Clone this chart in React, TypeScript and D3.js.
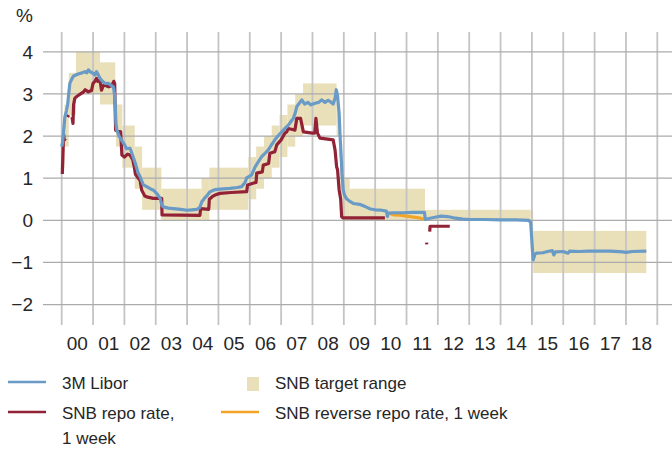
import React from "react";
import * as d3 from "d3";

// ---------- data ----------
const yearTicks = ["00","01","02","03","04","05","06","07","08","09","10","11","12","13","14","15","16","17","18"];
const yTicks = [-2, -1, 0, 1, 2, 3, 4];

// [start, end, low, high]
const targetRanges: [number, number, number, number][] = [
  [2000.0, 2000.09, 1.25, 2.25],
  [2000.09, 2000.225, 1.75, 2.75],
  [2000.225, 2000.455, 2.5, 3.5],
  [2000.455, 2001.22, 3.0, 4.0],
  [2001.22, 2001.71, 2.75, 3.75],
  [2001.71, 2001.73, 2.25, 3.25],
  [2001.73, 2001.935, 1.75, 2.75],
  [2001.935, 2002.33, 1.25, 2.25],
  [2002.33, 2002.565, 0.75, 1.75],
  [2002.565, 2003.18, 0.25, 1.25],
  [2003.18, 2004.46, 0.0, 0.75],
  [2004.46, 2004.71, 0.0, 1.0],
  [2004.71, 2005.955, 0.25, 1.25],
  [2005.955, 2006.205, 0.5, 1.5],
  [2006.205, 2006.455, 0.75, 1.75],
  [2006.455, 2006.7, 1.0, 2.0],
  [2006.7, 2006.95, 1.25, 2.25],
  [2006.95, 2007.2, 1.5, 2.5],
  [2007.2, 2007.45, 1.75, 2.75],
  [2007.45, 2007.7, 2.0, 3.0],
  [2007.7, 2008.77, 2.25, 3.25],
  [2008.77, 2008.85, 2.0, 3.0],
  [2008.85, 2008.89, 1.5, 2.5],
  [2008.89, 2008.95, 0.5, 1.5],
  [2008.95, 2009.19, 0.0, 1.0],
  [2009.19, 2011.59, 0.0, 0.75],
  [2011.59, 2014.96, 0.0, 0.25],
  [2014.96, 2015.04, -0.75, 0.25],
  [2015.04, 2018.65, -1.25, -0.25],
];

const libor: [number, number][] = [
  [2000.0, 1.75], [2000.03, 1.85], [2000.06, 2.1], [2000.1, 2.45], [2000.15, 2.6], [2000.19, 2.75],
  [2000.23, 3.05], [2000.26, 3.25], [2000.32, 3.35], [2000.37, 3.42], [2000.45, 3.45], [2000.55, 3.48],
  [2000.65, 3.5], [2000.74, 3.53], [2000.8, 3.5], [2000.85, 3.57], [2000.92, 3.52], [2001.0, 3.49],
  [2001.06, 3.45], [2001.11, 3.53], [2001.17, 3.45], [2001.22, 3.37], [2001.3, 3.3], [2001.38, 3.25],
  [2001.5, 3.25], [2001.58, 3.2], [2001.65, 3.17], [2001.7, 2.9], [2001.73, 2.3], [2001.76, 2.14],
  [2001.83, 2.0], [2001.91, 1.9], [2002.0, 1.8], [2002.07, 1.7], [2002.18, 1.71], [2002.28, 1.5],
  [2002.35, 1.35], [2002.44, 1.12], [2002.5, 1.04], [2002.6, 0.85], [2002.71, 0.8], [2002.85, 0.74],
  [2002.92, 0.72], [2003.05, 0.62], [2003.14, 0.52], [2003.2, 0.35], [2003.24, 0.32], [2003.4, 0.29],
  [2003.56, 0.28], [2003.8, 0.26], [2003.99, 0.24], [2004.15, 0.25], [2004.31, 0.26], [2004.4, 0.3],
  [2004.47, 0.44], [2004.55, 0.52], [2004.65, 0.6], [2004.73, 0.68], [2004.9, 0.73], [2005.05, 0.74],
  [2005.37, 0.76], [2005.6, 0.78], [2005.74, 0.8], [2005.85, 0.9], [2005.9, 1.01], [2006.06, 1.08],
  [2006.17, 1.27], [2006.28, 1.4], [2006.38, 1.51], [2006.5, 1.6], [2006.59, 1.67], [2006.7, 1.8],
  [2006.8, 1.91], [2006.92, 2.02], [2007.02, 2.1], [2007.12, 2.18], [2007.23, 2.26], [2007.32, 2.35],
  [2007.39, 2.42], [2007.45, 2.55], [2007.5, 2.7], [2007.58, 2.78], [2007.66, 2.86], [2007.75, 2.76],
  [2007.85, 2.8], [2007.95, 2.74], [2008.08, 2.78], [2008.2, 2.8], [2008.29, 2.86], [2008.4, 2.8],
  [2008.5, 2.85], [2008.56, 2.82], [2008.66, 2.76], [2008.72, 2.9], [2008.76, 3.1], [2008.8, 2.95],
  [2008.85, 2.54], [2008.88, 2.0], [2008.91, 1.59], [2008.94, 1.12], [2008.98, 0.72], [2009.02, 0.6],
  [2009.08, 0.52], [2009.19, 0.45], [2009.3, 0.4], [2009.5, 0.38], [2009.7, 0.32], [2009.85, 0.27],
  [2010.0, 0.25], [2010.2, 0.24], [2010.36, 0.22], [2010.39, 0.09], [2010.42, 0.17], [2010.6, 0.18],
  [2010.9, 0.18], [2011.2, 0.19], [2011.5, 0.19], [2011.57, 0.19], [2011.6, 0.02], [2011.75, 0.05],
  [2011.95, 0.08], [2012.1, 0.1], [2012.3, 0.09], [2012.5, 0.06], [2012.8, 0.03], [2013.0, 0.02],
  [2013.5, 0.02], [2014.0, 0.01], [2014.5, 0.01], [2014.9, 0.0], [2014.96, -0.05], [2015.0, -0.5],
  [2015.04, -0.94], [2015.1, -0.8], [2015.15, -0.78], [2015.35, -0.77], [2015.5, -0.74], [2015.65, -0.72],
  [2015.7, -0.82], [2015.75, -0.75], [2016.0, -0.74], [2016.15, -0.78], [2016.2, -0.73], [2016.5, -0.74],
  [2016.8, -0.73], [2017.0, -0.73], [2017.5, -0.73], [2017.9, -0.75], [2018.0, -0.76], [2018.2, -0.74],
  [2018.65, -0.73],
];

// null value = gap in the line
const repo: [number, number | null][] = [
  [2000.02, 1.1], [2000.06, 2.05], [2000.08, 1.9], [2000.12, 1.95], [2000.15, null],
  [2000.19, 2.45], [2000.22, 2.5], [2000.28, null], [2000.33, 2.45], [2000.36, 2.3],
  [2000.38, 2.75], [2000.42, 2.9], [2000.5, 2.95], [2000.6, 3.0], [2000.7, 3.05], [2000.75, 3.1],
  [2000.85, 3.05], [2000.95, 3.08], [2001.0, 3.25], [2001.06, 3.3], [2001.11, 3.37], [2001.15, 3.3],
  [2001.22, 3.33], [2001.27, 3.09], [2001.33, 3.2], [2001.4, 3.2], [2001.5, 3.17], [2001.6, 3.2],
  [2001.66, 3.3], [2001.69, 3.25], [2001.72, 2.14], [2001.88, 2.1], [2001.92, 1.55], [2002.0, 1.5],
  [2002.1, 1.57], [2002.18, 1.55], [2002.27, 1.43], [2002.32, 1.25], [2002.35, 1.1], [2002.44, 1.0],
  [2002.5, 0.95], [2002.55, 0.72], [2002.65, 0.58], [2002.75, 0.55], [2002.92, 0.52], [2003.19, 0.52],
  [2003.2, 0.13], [2004.41, 0.12], [2004.43, 0.28], [2004.69, 0.26], [2004.71, 0.5], [2004.8, 0.56],
  [2004.89, 0.6], [2005.05, 0.64], [2005.4, 0.66], [2005.9, 0.68], [2005.93, 0.84], [2006.1, 0.88],
  [2006.2, 0.9], [2006.22, 1.12], [2006.4, 1.15], [2006.43, 1.31], [2006.6, 1.35], [2006.64, 1.59],
  [2006.8, 1.63], [2006.86, 1.79], [2007.0, 1.91], [2007.12, 2.07], [2007.18, 2.1], [2007.22, 2.18],
  [2007.4, 2.15], [2007.44, 2.14], [2007.5, 2.42], [2007.62, 2.42], [2007.71, 2.1], [2008.0, 2.07],
  [2008.07, 2.07], [2008.11, 2.42], [2008.16, 2.07], [2008.24, 1.95], [2008.66, 1.91], [2008.72, 1.67],
  [2008.77, 1.27], [2008.8, 1.2], [2008.85, 0.72], [2008.9, 0.5], [2008.93, 0.09], [2008.97, 0.06],
  [2010.31, 0.06], [2011.0, null], [2011.64, -0.53], [2011.645, -0.57], [2011.7, null],
  [2011.74, -0.27], [2011.75, -0.14], [2012.38, -0.14],
];

const reverseRepo: [number, number][] = [
  [2010.47, 0.16], [2010.6, 0.13], [2010.8, 0.12], [2011.0, 0.1], [2011.2, 0.08], [2011.4, 0.06], [2011.58, 0.02],
];

// ---------- styles ----------
const W = 672, H = 449;
const FONT = "'Liberation Sans', Arial, sans-serif";
const TEXT = "#262626";
const BLUE = "#6a9bc7";
const RED = "#922235";
const ORANGE = "#f3a527";
const BEIGE = "#e9dfb9";

export default function App() {
  const x = d3.scaleLinear().domain([2000, 2019]).range([61.7, 657.3]);
  const y = d3.scaleLinear().domain([-2, 4]).range([304.6, 51.8]);

  const line = d3.line<[number, number | null]>()
    .defined(d => d[1] !== null)
    .x(d => x(d[0]))
    .y(d => y(d[1] as number));

  const gridYears = d3.range(2000, 2020);

  return (
    <svg width={W} height={H} style={{ position: "absolute", left: 0, top: 0, background: "#fff" }}
      fontFamily={FONT}>
      {/* target range boxes */}
      {targetRanges.map((r, i) => (
        <rect key={i} x={x(r[0])} width={x(r[1]) - x(r[0])} y={y(r[3])} height={y(r[2]) - y(r[3])}
          fill={BEIGE} />
      ))}
      {/* grid */}
      {gridYears.map(yr => (
        <line key={yr} x1={x(yr)} x2={x(yr)} y1={32} y2={325} stroke="#c4c4c4" strokeWidth={1.8} />
      ))}
      {yTicks.map(v => (
        <line key={v} x1={43} x2={672} y1={y(v)} y2={y(v)} stroke="#ababab" strokeWidth={1.3} />
      ))}
      {/* lines */}
      <path d={line(repo) || ""} fill="none" stroke={RED} strokeWidth={3.2} strokeLinejoin="round" />
      <path d={line(reverseRepo) || ""} fill="none" stroke={ORANGE} strokeWidth={3.2} strokeLinejoin="round" />
      <path d={line(libor) || ""} fill="none" stroke={BLUE} strokeWidth={3.2} strokeLinejoin="round" />

      {/* y axis labels */}
      <text x={16} y={22} fontSize={19} fill={TEXT}>%</text>
      {yTicks.map(v => (
        <text key={v} x={33} y={y(v)} dy="0.36em" textAnchor="end" fontSize={19} fill={TEXT}>
          {v < 0 ? "\u2212" + Math.abs(v) : String(v)}
        </text>
      ))}
      {/* x axis labels */}
      {yearTicks.map((lab, i) => (
        <text key={lab} x={x(2000 + i + 0.5)} y={350} textAnchor="middle" fontSize={19} fill={TEXT}>{lab}</text>
      ))}

      {/* legend */}
      <line x1={8} x2={46} y1={382} y2={382} stroke={BLUE} strokeWidth={2.5} />
      <text x={62} y={389} fontSize={17} fill={TEXT}>3M Libor</text>
      <rect x={247} y={377} width={12} height={14} fill={BEIGE} />
      <text x={275} y={389} fontSize={17} fill={TEXT}>SNB target range</text>
      <line x1={8} x2={46} y1={412} y2={412} stroke={RED} strokeWidth={2.5} />
      <text x={62} y={419} fontSize={17} fill={TEXT}>SNB repo rate,</text>
      <text x={62} y={444} fontSize={17} fill={TEXT}>1 week</text>
      <line x1={221} x2={259} y1={412} y2={412} stroke={ORANGE} strokeWidth={2.5} />
      <text x={275} y={419} fontSize={17} fill={TEXT}>SNB reverse repo rate, 1 week</text>
    </svg>
  );
}
